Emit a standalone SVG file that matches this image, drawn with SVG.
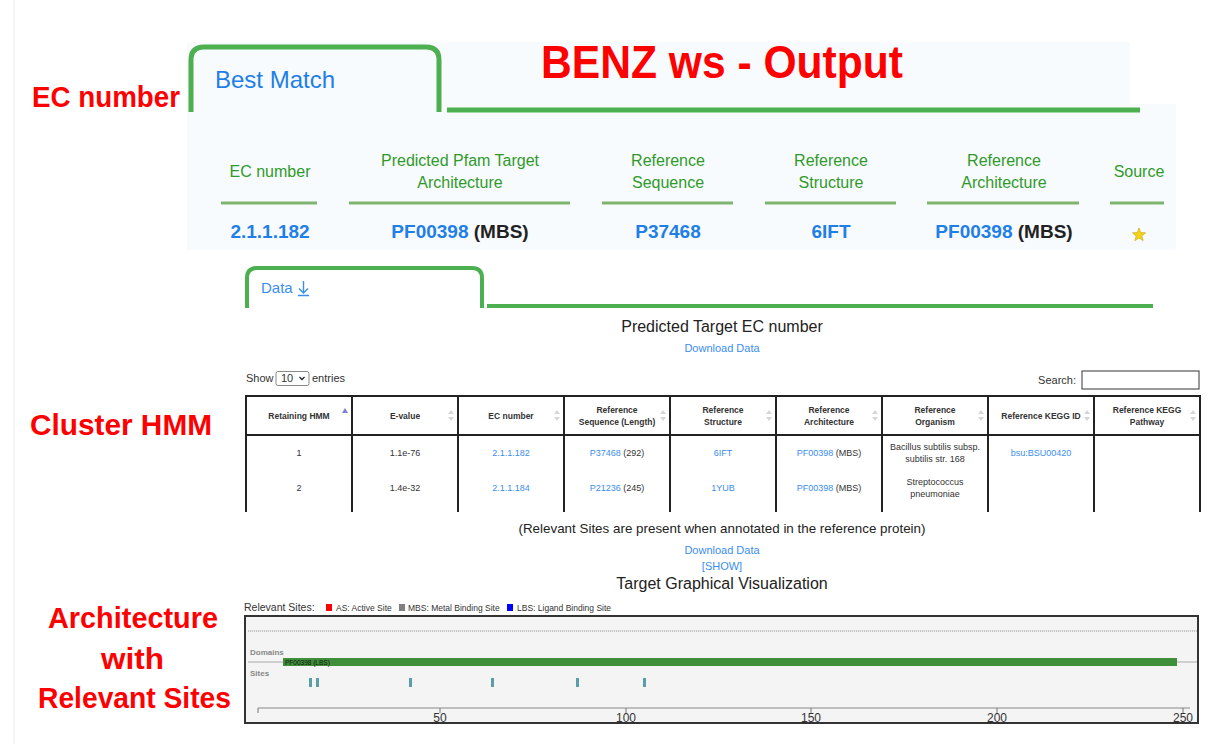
<svg xmlns="http://www.w3.org/2000/svg" width="1208" height="744" viewBox="0 0 1208 744">
<style>
text{font-family:"Liberation Sans",Arial,sans-serif}
.lbl{fill:#ff0000;font-weight:bold;font-size:29px}
.tab{fill:none;stroke:#4caf50;stroke-width:5;stroke-linejoin:round}
.bmh{fill:#2f9a2a;font-size:16px;text-anchor:middle}
.bmv{font-size:19px;font-weight:bold;text-anchor:middle;fill:#222}
.ul{stroke:#7db56f;stroke-width:3}
.blue{fill:#1f7fe8}
.lnk{fill:#3a8ef0}
.th{font-size:8.5px;font-weight:bold;fill:#333;text-anchor:middle}
.td{font-size:9px;fill:#333;text-anchor:middle}
.grid{stroke:#222;stroke-width:2}
.sort{fill:#d6d6d6}
.small{font-size:11px;fill:#333}
.leg{font-size:8.5px;fill:#333}
.site{fill:#5b9ea8}
.tick{stroke:#777;stroke-width:1}
.ax{font-size:12px;fill:#333;text-anchor:middle}
</style>
<rect width="1208" height="744" fill="#ffffff"/>
<line x1="14" y1="0" x2="14" y2="744" stroke="#f3f4fa" stroke-width="2"/>

<g id="best-match">
<path d="M187,42 H1130 V104 H1176 V250 H187 Z" fill="#f8fbfd"/>
<path class="tab" d="M191,112 V60 Q191,47 204,47 H426 Q439,47 439,60 V112"/>
<line x1="447" y1="110" x2="1140" y2="110" stroke="#4caf50" stroke-width="5"/>
<text x="215" y="88" font-size="24" class="blue">Best Match</text>
<text x="541" y="78" font-size="46" font-weight="bold" fill="#ff0000" textLength="362" lengthAdjust="spacingAndGlyphs">BENZ ws - Output</text>

<text class="bmh" x="270" y="177">EC number</text>
<text class="bmh" x="460" y="166">Predicted Pfam Target</text>
<text class="bmh" x="460" y="188">Architecture</text>
<text class="bmh" x="668" y="166">Reference</text>
<text class="bmh" x="668" y="188">Sequence</text>
<text class="bmh" x="831" y="166">Reference</text>
<text class="bmh" x="831" y="188">Structure</text>
<text class="bmh" x="1004" y="166">Reference</text>
<text class="bmh" x="1004" y="188">Architecture</text>
<text class="bmh" x="1139" y="177">Source</text>

<line class="ul" x1="221" y1="203" x2="317" y2="203"/>
<line class="ul" x1="349" y1="203" x2="570" y2="203"/>
<line class="ul" x1="602" y1="203" x2="733" y2="203"/>
<line class="ul" x1="765" y1="203" x2="896" y2="203"/>
<line class="ul" x1="927" y1="203" x2="1079" y2="203"/>
<line class="ul" x1="1110" y1="203" x2="1164" y2="203"/>

<text class="bmv" x="270" y="238"><tspan class="blue">2.1.1.182</tspan></text>
<text class="bmv" x="460" y="238"><tspan class="blue">PF00398</tspan> (MBS)</text>
<text class="bmv" x="668" y="238"><tspan class="blue">P37468</tspan></text>
<text class="bmv" x="831" y="238"><tspan class="blue">6IFT</tspan></text>
<text class="bmv" x="1004" y="238"><tspan class="blue">PF00398</tspan> (MBS)</text>
<polygon points="1139,228 1140.76,232.57 1145.66,232.84 1141.85,235.93 1143.11,240.66 1139,238 1134.89,240.66 1136.15,235.93 1132.34,232.84 1137.24,232.57" fill="#f3d21c" stroke="#c9a400" stroke-width="0.6"/>
</g>

<g id="labels">
<text class="lbl" x="32" y="107" textLength="148" lengthAdjust="spacingAndGlyphs">EC number</text>
<text class="lbl" x="30" y="435" textLength="182" lengthAdjust="spacingAndGlyphs">Cluster HMM</text>
<text class="lbl" x="48" y="628" textLength="170" lengthAdjust="spacingAndGlyphs">Architecture</text>
<text class="lbl" x="101" y="669" textLength="63" lengthAdjust="spacingAndGlyphs">with</text>
<text class="lbl" x="38" y="708" textLength="193" lengthAdjust="spacingAndGlyphs">Relevant Sites</text>
</g>

<g id="data-tab">
<path d="M247,308 V278 Q247,268 257,268 H472 Q482,268 482,278 V308" fill="none" stroke="#4caf50" stroke-width="4" stroke-linejoin="round"/>
<line x1="487" y1="306" x2="1153" y2="306" stroke="#4caf50" stroke-width="4"/>
<text x="261" y="293" font-size="15" class="lnk">Data</text>
<path d="M303.5,281 V293 M299,288.5 L303.5,293 L308,288.5 M298,295.5 H309" fill="none" stroke="#3a8ef0" stroke-width="1.4"/>
<text x="722" y="332" font-size="16" fill="#222" text-anchor="middle">Predicted Target EC number</text>
<text x="722" y="352" font-size="11" class="lnk" text-anchor="middle">Download Data</text>
</g>

<g id="cluster-table">
<text x="246" y="382" class="small">Show</text>
<rect x="276" y="371.5" width="33" height="14" rx="2" fill="#fff" stroke="#888" stroke-width="1"/>
<text x="281" y="382" class="small">10</text>
<path d="M299.5,377 L302,379.5 L304.5,377" fill="none" stroke="#222" stroke-width="1.3"/>
<text x="312" y="382" class="small">entries</text>
<text x="1076" y="384" class="small" text-anchor="end">Search:</text>
<rect x="1082" y="371" width="117" height="18" fill="#fff" stroke="#555" stroke-width="1.2"/>

<rect x="246" y="396" width="954" height="116" fill="#fff"/>
<line class="grid" x1="245" y1="396" x2="1201" y2="396"/>
<line class="grid" x1="245" y1="435" x2="1201" y2="435"/>
<g class="grid">
<line x1="246" y1="396" x2="246" y2="512"/>
<line x1="352" y1="396" x2="352" y2="512"/>
<line x1="458" y1="396" x2="458" y2="512"/>
<line x1="564" y1="396" x2="564" y2="512"/>
<line x1="670" y1="396" x2="670" y2="512"/>
<line x1="776" y1="396" x2="776" y2="512"/>
<line x1="882" y1="396" x2="882" y2="512"/>
<line x1="988" y1="396" x2="988" y2="512"/>
<line x1="1094" y1="396" x2="1094" y2="512"/>
<line x1="1200" y1="396" x2="1200" y2="512"/>
</g>

<text class="th" x="299" y="419">Retaining HMM</text>
<text class="th" x="405" y="419">E-value</text>
<text class="th" x="511" y="419">EC number</text>
<text class="th" x="617" y="413">Reference</text>
<text class="th" x="617" y="425">Sequence (Length)</text>
<text class="th" x="723" y="413">Reference</text>
<text class="th" x="723" y="425">Structure</text>
<text class="th" x="829" y="413">Reference</text>
<text class="th" x="829" y="425">Architecture</text>
<text class="th" x="935" y="413">Reference</text>
<text class="th" x="935" y="425">Organism</text>
<text class="th" x="1041" y="419">Reference KEGG ID</text>
<text class="th" x="1147" y="413">Reference KEGG</text>
<text class="th" x="1147" y="425">Pathway</text>

<path d="M342,413 L348,413 L345,408 Z" fill="#7f7fdc"/>
<g class="sort">
<path d="M448,414 L454,414 L451,410 Z M448,417 L454,417 L451,421 Z"/>
<path d="M554,414 L560,414 L557,410 Z M554,417 L560,417 L557,421 Z"/>
<path d="M660,414 L666,414 L663,410 Z M660,417 L666,417 L663,421 Z"/>
<path d="M766,414 L772,414 L769,410 Z M766,417 L772,417 L769,421 Z"/>
<path d="M872,414 L878,414 L875,410 Z M872,417 L878,417 L875,421 Z"/>
<path d="M978,414 L984,414 L981,410 Z M978,417 L984,417 L981,421 Z"/>
<path d="M1084,414 L1090,414 L1087,410 Z M1084,417 L1090,417 L1087,421 Z"/>
<path d="M1190,414 L1196,414 L1193,410 Z M1190,417 L1196,417 L1193,421 Z"/>
</g>

<text class="td" x="299" y="456">1</text>
<text class="td" x="405" y="456">1.1e-76</text>
<text class="td" x="511" y="456"><tspan class="lnk">2.1.1.182</tspan></text>
<text class="td" x="617" y="456"><tspan class="lnk">P37468</tspan> (292)</text>
<text class="td" x="723" y="456"><tspan class="lnk">6IFT</tspan></text>
<text class="td" x="829" y="456"><tspan class="lnk">PF00398</tspan> (MBS)</text>
<text class="td" x="935" y="450">Bacillus subtilis subsp.</text>
<text class="td" x="935" y="462">subtilis str. 168</text>
<text class="td" x="1041" y="456"><tspan class="lnk">bsu:BSU00420</tspan></text>

<text class="td" x="299" y="491">2</text>
<text class="td" x="405" y="491">1.4e-32</text>
<text class="td" x="511" y="491"><tspan class="lnk">2.1.1.184</tspan></text>
<text class="td" x="617" y="491"><tspan class="lnk">P21236</tspan> (245)</text>
<text class="td" x="723" y="491"><tspan class="lnk">1YUB</tspan></text>
<text class="td" x="829" y="491"><tspan class="lnk">PF00398</tspan> (MBS)</text>
<text class="td" x="935" y="485">Streptococcus</text>
<text class="td" x="935" y="497">pneumoniae</text>
</g>

<g id="visualization">
<text x="722" y="533" font-size="13" fill="#222" text-anchor="middle" textLength="407" lengthAdjust="spacingAndGlyphs">(Relevant Sites are present when annotated in the reference protein)</text>
<text x="722" y="554" font-size="11" class="lnk" text-anchor="middle">Download Data</text>
<text x="722" y="570" font-size="11" class="lnk" text-anchor="middle">[SHOW]</text>
<text x="722" y="589" font-size="16" fill="#222" text-anchor="middle">Target Graphical Visualization</text>

<text x="244" y="611" font-size="10.5" fill="#333">Relevant Sites:</text>
<rect x="326" y="604" width="6" height="7" fill="#ff0000"/>
<text x="336" y="611" class="leg">AS: Active Site</text>
<rect x="399" y="604" width="6" height="7" fill="#808080"/>
<text x="408" y="611" class="leg">MBS: Metal Binding Site</text>
<rect x="507" y="604" width="6" height="7" fill="#0000ff"/>
<text x="517" y="611" class="leg">LBS: Ligand Binding Site</text>

<rect x="245" y="616" width="953" height="107" fill="#f4f4f4" stroke="#333" stroke-width="2"/>
<line x1="248" y1="631" x2="1197" y2="631" stroke="#999" stroke-width="1.2" stroke-dasharray="1.2,0.8"/>
<text x="250" y="655" font-size="8" font-weight="bold" fill="#888">Domains</text>
<line x1="248" y1="662" x2="1197" y2="662" stroke="#aaa" stroke-width="1"/>
<rect x="283" y="658" width="894" height="8" fill="#3f8f3a"/>
<text x="285" y="664.5" font-size="6.5" fill="#111">PF00398 (LBS)</text>
<text x="250" y="676" font-size="8" font-weight="bold" fill="#888">Sites</text>
<rect class="site" x="309" y="678" width="3" height="9"/>
<rect class="site" x="316" y="678" width="3" height="9"/>
<rect class="site" x="409" y="678" width="3" height="9"/>
<rect class="site" x="491" y="678" width="3" height="9"/>
<rect class="site" x="576" y="678" width="3" height="9"/>
<rect class="site" x="643" y="678" width="3" height="9"/>

<line x1="258" y1="708" x2="1190" y2="708" stroke="#888" stroke-width="1"/>
<line class="tick" x1="258" y1="708" x2="258" y2="713"/>
<line class="tick" x1="440" y1="708" x2="440" y2="713"/>
<line class="tick" x1="626" y1="708" x2="626" y2="713"/>
<line class="tick" x1="811" y1="708" x2="811" y2="713"/>
<line class="tick" x1="997" y1="708" x2="997" y2="713"/>
<line class="tick" x1="1183" y1="708" x2="1183" y2="713"/>
<text class="ax" x="440" y="722">50</text>
<text class="ax" x="626" y="722">100</text>
<text class="ax" x="811" y="722">150</text>
<text class="ax" x="997" y="722">200</text>
<text class="ax" x="1183" y="722">250</text>
</g>
</svg>
